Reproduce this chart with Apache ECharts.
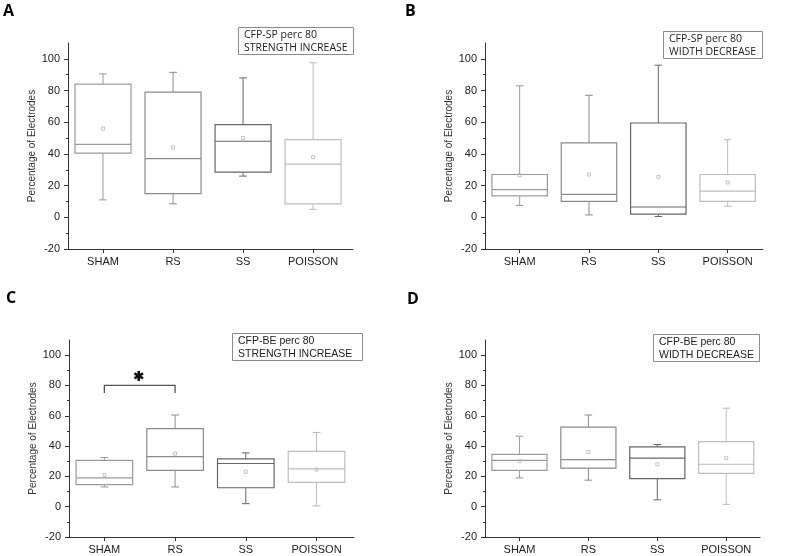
<!DOCTYPE html>
<html>
<head>
<meta charset="utf-8">
<script src="https://cdn.jsdelivr.net/npm/echarts@6/dist/echarts.min.js"></script>
<style>
html,body{margin:0;padding:0;background:#fff}
#main{width:786px;height:556px}
</style>
</head>
<body>
<div id="main"></div>
<script>
var categories = ['SHAM', 'RS', 'SS', 'POISSON'];
var yTicks = [-20, 0, 20, 40, 60, 80, 100];
var yMinorTicks = [-10, 10, 30, 50, 70, 90];

// each row: [min, Q1, median, Q3, max]
var boxA = [[11, 40.5, 46, 84, 90.5], [8.5, 15, 37, 79, 91.5], [26, 28.5, 48, 58.5, 88], [5, 8.5, 33.5, 49, 97.5]];
var meanA = [56, 44, 50, 38];
var boxB = [[7.5, 13.5, 17.5, 27, 83], [1.5, 10, 14.5, 47, 77], [0.5, 2, 6.5, 59.5, 96], [7, 10, 16.5, 27, 49]];
var meanB = [26.5, 27, 25.5, 22];
var boxC = [[13, 14.5, 19, 30.5, 32.5], [13, 24, 33, 51.5, 60.5], [2, 12.5, 28.5, 31.5, 35.5], [0.5, 16, 25, 36.5, 49]];
var meanC = [21, 35, 23, 24.5];
var boxD = [[19, 24, 30.5, 34.5, 46.5], [17.5, 25.5, 31, 52.5, 60.5], [4.5, 18.5, 32, 39.5, 41], [1.5, 22, 28, 43, 65]];
var meanD = [30, 36, 28, 32];
// significance bracket in C: [from category, to category, top value, leg end value]
var sigC = [[1, 2, 80, 75]];

var boxColors = ['#9a9a9a', '#8a8a8a', '#666666', '#bdbdbd'];

var panels = [
  {box: boxA, mean: meanA, letter: 'A', legend: ['CFP-SP perc 80', 'STRENGTH INCREASE'],
   grid: {left: 68, top: 43, width: 285, height: 206}, xMax: 4.57,
   lg: {x: 238, y: 27, w: 115, h: 27}, lt: [3, 3], font: 'Open Sans'},
  {box: boxB, mean: meanB, letter: 'B', legend: ['CFP-SP perc 80', 'WIDTH DECREASE'],
   grid: {left: 485, top: 43, width: 278, height: 206}, xMax: 4.51,
   lg: {x: 663, y: 31, w: 99, h: 27}, lt: [405, 3], font: 'Open Sans'},
  {box: boxC, mean: meanC, letter: 'C', legend: ['CFP-BE perc 80', 'STRENGTH INCREASE'],
   grid: {left: 69, top: 340, width: 285, height: 197}, xMax: 4.53,
   lg: {x: 232, y: 333, w: 130, h: 27}, lt: [6, 290], font: 'Liberation Sans'},
  {box: boxD, mean: meanD, letter: 'D', legend: ['CFP-BE perc 80', 'WIDTH DECREASE'],
   grid: {left: 485, top: 340, width: 275, height: 197}, xMax: 4.49,
   lg: {x: 653, y: 334, w: 106, h: 27}, lt: [407, 291], font: 'Liberation Sans'}
];

function renderBox(params, api) {
  var x = api.value(0);
  var c = boxColors[params.dataIndex];
  var half = api.size([0.4, 0])[0];
  var cap = api.size([0.055, 0])[0];
  var pMin = api.coord([x, api.value(1)]);
  var pQ1 = api.coord([x, api.value(2)]);
  var pMed = api.coord([x, api.value(3)]);
  var pQ3 = api.coord([x, api.value(4)]);
  var pMax = api.coord([x, api.value(5)]);
  var pMean = api.coord([x, api.value(6)]);
  var ls = {stroke: c, lineWidth: 1, fill: null};
  return {type: 'group', children: [
    {type: 'line', shape: {x1: pMin[0], y1: pMin[1], x2: pQ1[0], y2: pQ1[1]}, style: ls},
    {type: 'line', shape: {x1: pQ3[0], y1: pQ3[1], x2: pMax[0], y2: pMax[1]}, style: ls},
    {type: 'line', shape: {x1: pMin[0] - cap, y1: pMin[1], x2: pMin[0] + cap, y2: pMin[1]}, style: ls},
    {type: 'line', shape: {x1: pMax[0] - cap, y1: pMax[1], x2: pMax[0] + cap, y2: pMax[1]}, style: ls},
    {type: 'rect', shape: {x: pQ3[0] - half, y: pQ3[1], width: half * 2, height: pQ1[1] - pQ3[1]},
     style: {stroke: c, lineWidth: 1.2, fill: '#fff'}},
    {type: 'line', shape: {x1: pMed[0] - half, y1: pMed[1], x2: pMed[0] + half, y2: pMed[1]},
     style: {stroke: c, lineWidth: 1.2}},
    {type: 'rect', shape: {x: pMean[0] - 1.5, y: pMean[1] - 1.5, width: 3, height: 3},
     style: {stroke: '#b5b5b5', lineWidth: 0.8, fill: null}}
  ]};
}

function renderSig(params, api) {
  var a = api.coord([api.value(0), api.value(2)]);
  var b = api.coord([api.value(1), api.value(2)]);
  var a2 = api.coord([api.value(0), api.value(3)]);
  var b2 = api.coord([api.value(1), api.value(3)]);
  var cx = (a[0] + b[0]) / 2 - 1, cy = a[1] - 9.5, r = 5;
  var star = [90, 30, 150].map(function (deg) {
    var t = deg * Math.PI / 180;
    return {type: 'line',
      shape: {x1: cx - r * Math.cos(t), y1: cy - r * Math.sin(t), x2: cx + r * Math.cos(t), y2: cy + r * Math.sin(t)},
      style: {stroke: '#111', lineWidth: 2.6}};
  });
  return {type: 'group', children: [
    {type: 'polyline', shape: {points: [a2, a, b, b2]}, style: {stroke: '#555', lineWidth: 1.3, fill: null}}
  ].concat(star)};
}

var grids = [], xAxes = [], yAxes = [], series = [], graphics = [];
panels.forEach(function (p, i) {
  grids.push(p.grid);
  xAxes.push({
    gridIndex: i, type: 'value', min: 0.5, max: p.xMax,
    axisLine: {show: true, onZero: false, lineStyle: {color: '#333'}},
    axisTick: {show: true, customValues: [1, 2, 3, 4], length: 4, lineStyle: {color: '#333'}},
    axisLabel: {customValues: [1, 2, 3, 4], color: '#222', fontSize: 11, margin: 7,
      fontFamily: 'Liberation Sans',
      formatter: function (v) { return categories[Math.round(v) - 1]; }},
    splitLine: {show: false}
  });
  yAxes.push({
    gridIndex: i, type: 'value', position: 'left', min: -20, max: 110,
    axisLine: {show: true, lineStyle: {color: '#333'}},
    axisTick: {show: true, customValues: yTicks, length: 4, lineStyle: {color: '#333'}},
    axisLabel: {customValues: yTicks, color: '#222', fontSize: 11, margin: 8, fontFamily: 'Liberation Sans'},
    splitLine: {show: false},
    name: 'Percentage of Electrodes', nameLocation: 'middle', nameGap: 31,
    nameTextStyle: {fontSize: 10, color: '#333', fontFamily: 'Liberation Sans'}
  });
  yAxes.push({
    gridIndex: i, type: 'value', position: 'left', offset: 0, min: -20, max: 110,
    axisLine: {show: false},
    axisTick: {show: true, customValues: yMinorTicks, length: 2, lineStyle: {color: '#333'}},
    axisLabel: {show: false},
    splitLine: {show: false}
  });
  var rows = p.box.map(function (b, k) {
    return [k + 1, b[0], b[1], b[2], b[3], b[4], p.mean[k]];
  });
  series.push({
    type: 'custom', xAxisIndex: i, yAxisIndex: 2 * i, renderItem: renderBox,
    data: rows, silent: true, clip: false
  });
  graphics.push({
    type: 'text', left: p.lt[0], top: p.lt[1],
    style: {text: p.letter, font: 'bold 16px "Open Sans"', fill: '#000'}
  });
  graphics.push({
    type: 'rect', left: p.lg.x, top: p.lg.y,
    shape: {width: p.lg.w, height: p.lg.h},
    style: {fill: '#fff', stroke: '#8a8a8a', lineWidth: 1}
  });
  graphics.push({
    type: 'text', left: p.lg.x + 6, top: p.lg.y + 2,
    style: {text: p.legend[0] + '\n' + p.legend[1], fill: '#222',
      font: '10.5px "' + p.font + '"', lineHeight: 13}
  });
});

series.push({
  type: 'custom', xAxisIndex: 2, yAxisIndex: 4, renderItem: renderSig,
  data: sigC, silent: true, clip: false
});

var chart = echarts.init(document.getElementById('main'));
chart.setOption({
  animation: false,
  backgroundColor: '#fff',
  grid: grids,
  xAxis: xAxes,
  yAxis: yAxes,
  series: series,
  graphic: graphics
});
</script>
</body>
</html>
